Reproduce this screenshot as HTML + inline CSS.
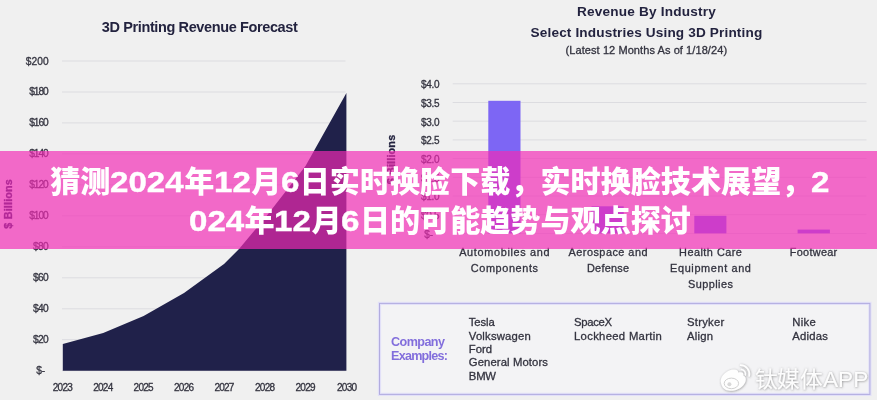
<!DOCTYPE html>
<html lang="zh-CN"><head><meta charset="utf-8"><title>猜测2024年12月6日实时换脸下载</title>
<style>
html,body{margin:0;padding:0;background:#f0f0f0;}
body{width:877px;height:400px;overflow:hidden;position:relative;font-family:"Liberation Sans", sans-serif;}
#chart{position:absolute;left:0;top:0;width:877px;height:400px;display:block;filter:blur(0.45px);}
#chart text{font-family:"Liberation Sans", sans-serif;}
#band{position:absolute;left:0;top:151px;width:877px;height:98px;background:rgba(243,41,181,0.678);}
.tl{position:absolute;left:1.5px;width:877px;text-align:center;white-space:nowrap;color:#fff;font-weight:900;font-size:30.1px;line-height:36px;height:36px;font-family:"Liberation Sans", "Noto Sans CJK SC", sans-serif;}
.tl span{display:inline-block;transform:scaleX(1.1);transform-origin:0 50%;-webkit-text-stroke:0.4px #fff;text-align:left;}
.d1{width:18.45px}.d2{width:36.9px}.d3{width:55.35px}.d4{width:73.8px}
#l1{top:163.5px;}
#l2{top:202.5px;}
</style></head><body>
<svg id="chart" width="877" height="400" viewBox="0 0 877 400">
<defs><filter id="sh" x="-10%" y="-30%" width="120%" height="160%"><feDropShadow dx="0.4" dy="0.5" stdDeviation="0.8" flood-color="#666" flood-opacity="0.75"/></filter></defs>
<rect width="877" height="400" fill="#f0f0f0"/>
<line x1="62" x2="345.5" y1="61.0" y2="61.0" stroke="#dcdce0" stroke-width="1"/>
<line x1="62" x2="345.5" y1="92.0" y2="92.0" stroke="#dcdce0" stroke-width="1"/>
<line x1="62" x2="345.5" y1="122.9" y2="122.9" stroke="#dcdce0" stroke-width="1"/>
<line x1="62" x2="345.5" y1="153.9" y2="153.9" stroke="#dcdce0" stroke-width="1"/>
<line x1="62" x2="345.5" y1="184.9" y2="184.9" stroke="#dcdce0" stroke-width="1"/>
<line x1="62" x2="345.5" y1="215.8" y2="215.8" stroke="#dcdce0" stroke-width="1"/>
<line x1="62" x2="345.5" y1="246.8" y2="246.8" stroke="#dcdce0" stroke-width="1"/>
<line x1="62" x2="345.5" y1="277.8" y2="277.8" stroke="#dcdce0" stroke-width="1"/>
<line x1="62" x2="345.5" y1="308.8" y2="308.8" stroke="#dcdce0" stroke-width="1"/>
<line x1="62" x2="345.5" y1="339.7" y2="339.7" stroke="#dcdce0" stroke-width="1"/>
<line x1="62" x2="345.5" y1="370.7" y2="370.7" stroke="#dcdce0" stroke-width="1"/>
<text x="48.7" y="61.0" font-size="10.2" text-anchor="end" font-weight="normal" fill="#33333f" stroke="#33333f" stroke-width="0.3" dominant-baseline="central" textLength="23" lengthAdjust="spacing">$200</text>
<text x="48.7" y="91.97" font-size="10.2" text-anchor="end" font-weight="normal" fill="#33333f" stroke="#33333f" stroke-width="0.3" dominant-baseline="central" textLength="19.5" lengthAdjust="spacing">$180</text>
<text x="48.7" y="122.94" font-size="10.2" text-anchor="end" font-weight="normal" fill="#33333f" stroke="#33333f" stroke-width="0.3" dominant-baseline="central" textLength="19.5" lengthAdjust="spacing">$160</text>
<text x="48.7" y="153.91" font-size="10.2" text-anchor="end" font-weight="normal" fill="#33333f" stroke="#33333f" stroke-width="0.3" dominant-baseline="central" textLength="19.5" lengthAdjust="spacing">$140</text>
<text x="48.7" y="184.88" font-size="10.2" text-anchor="end" font-weight="normal" fill="#33333f" stroke="#33333f" stroke-width="0.3" dominant-baseline="central" textLength="19.5" lengthAdjust="spacing">$120</text>
<text x="48.7" y="215.85" font-size="10.2" text-anchor="end" font-weight="normal" fill="#33333f" stroke="#33333f" stroke-width="0.3" dominant-baseline="central" textLength="19.5" lengthAdjust="spacing">$100</text>
<text x="48.7" y="246.82" font-size="10.2" text-anchor="end" font-weight="normal" fill="#33333f" stroke="#33333f" stroke-width="0.3" dominant-baseline="central" textLength="15.6" lengthAdjust="spacing">$80</text>
<text x="48.7" y="277.78999999999996" font-size="10.2" text-anchor="end" font-weight="normal" fill="#33333f" stroke="#33333f" stroke-width="0.3" dominant-baseline="central" textLength="15.6" lengthAdjust="spacing">$60</text>
<text x="48.7" y="308.76" font-size="10.2" text-anchor="end" font-weight="normal" fill="#33333f" stroke="#33333f" stroke-width="0.3" dominant-baseline="central" textLength="15.6" lengthAdjust="spacing">$40</text>
<text x="48.7" y="339.73" font-size="10.2" text-anchor="end" font-weight="normal" fill="#33333f" stroke="#33333f" stroke-width="0.3" dominant-baseline="central" textLength="15.6" lengthAdjust="spacing">$20</text>
<text x="45.2" y="370.7" font-size="10.2" text-anchor="end" font-weight="normal" fill="#33333f" stroke="#33333f" stroke-width="0.3" dominant-baseline="central">$-</text>
<path d="M62.8,370.7 L62.8,344 L103.2,333 L143.6,316 L184,293 L224,264 L239,249 L265,218 L305.5,166 L346.4,93 L346.4,370.7 Z" fill="#20214a"/>
<text x="62.8" y="387" font-size="10" text-anchor="middle" font-weight="normal" fill="#33333f" stroke="#33333f" stroke-width="0.3" dominant-baseline="central" textLength="20" lengthAdjust="spacing">2023</text>
<text x="103.2" y="387" font-size="10" text-anchor="middle" font-weight="normal" fill="#33333f" stroke="#33333f" stroke-width="0.3" dominant-baseline="central" textLength="20" lengthAdjust="spacing">2024</text>
<text x="143.6" y="387" font-size="10" text-anchor="middle" font-weight="normal" fill="#33333f" stroke="#33333f" stroke-width="0.3" dominant-baseline="central" textLength="20" lengthAdjust="spacing">2025</text>
<text x="184" y="387" font-size="10" text-anchor="middle" font-weight="normal" fill="#33333f" stroke="#33333f" stroke-width="0.3" dominant-baseline="central" textLength="20" lengthAdjust="spacing">2026</text>
<text x="224.4" y="387" font-size="10" text-anchor="middle" font-weight="normal" fill="#33333f" stroke="#33333f" stroke-width="0.3" dominant-baseline="central" textLength="20" lengthAdjust="spacing">2027</text>
<text x="265" y="387" font-size="10" text-anchor="middle" font-weight="normal" fill="#33333f" stroke="#33333f" stroke-width="0.3" dominant-baseline="central" textLength="20" lengthAdjust="spacing">2028</text>
<text x="305.5" y="387" font-size="10" text-anchor="middle" font-weight="normal" fill="#33333f" stroke="#33333f" stroke-width="0.3" dominant-baseline="central" textLength="20" lengthAdjust="spacing">2029</text>
<text x="347" y="387" font-size="10" text-anchor="middle" font-weight="normal" fill="#33333f" stroke="#33333f" stroke-width="0.3" dominant-baseline="central" textLength="20" lengthAdjust="spacing">2030</text>
<text x="199.8" y="27.4" font-size="14.5" text-anchor="middle" font-weight="bold" fill="#23233f" dominant-baseline="central" textLength="196" lengthAdjust="spacing">3D Printing Revenue Forecast</text>
<text transform="translate(7.8,203.9) rotate(-90)" font-size="10.8" text-anchor="middle" font-weight="bold" fill="#2a2358" stroke="#2a2358" stroke-width="0.35" dominant-baseline="central" textLength="49.5" lengthAdjust="spacing">$ Billions</text>
<text x="646.4" y="11.3" font-size="13.6" text-anchor="middle" font-weight="bold" fill="#23233f" dominant-baseline="central" textLength="139" lengthAdjust="spacing">Revenue By Industry</text>
<text x="646.4" y="32.8" font-size="13.6" text-anchor="middle" font-weight="bold" fill="#23233f" dominant-baseline="central" textLength="231.6" lengthAdjust="spacing">Select Industries Using 3D Printing</text>
<text x="646.3" y="50.3" font-size="11" text-anchor="middle" font-weight="normal" fill="#33333f" stroke="#33333f" stroke-width="0.3" dominant-baseline="central" textLength="161.5" lengthAdjust="spacing">(Latest 12 Months As of 1/18/24)</text>
<line x1="452.7" x2="866.5" y1="83.8" y2="83.8" stroke="#dcdce0" stroke-width="1"/>
<text x="439.5" y="84.7" font-size="10" text-anchor="end" font-weight="normal" fill="#33333f" stroke="#33333f" stroke-width="0.3" dominant-baseline="central" textLength="18.5" lengthAdjust="spacing">$4.0</text>
<line x1="452.7" x2="866.5" y1="102.5" y2="102.5" stroke="#dcdce0" stroke-width="1"/>
<text x="439.5" y="103.4" font-size="10" text-anchor="end" font-weight="normal" fill="#33333f" stroke="#33333f" stroke-width="0.3" dominant-baseline="central" textLength="18.5" lengthAdjust="spacing">$3.5</text>
<line x1="452.7" x2="866.5" y1="121.2" y2="121.2" stroke="#dcdce0" stroke-width="1"/>
<text x="439.5" y="122.1" font-size="10" text-anchor="end" font-weight="normal" fill="#33333f" stroke="#33333f" stroke-width="0.3" dominant-baseline="central" textLength="18.5" lengthAdjust="spacing">$3.0</text>
<line x1="452.7" x2="866.5" y1="139.9" y2="139.9" stroke="#dcdce0" stroke-width="1"/>
<text x="439.5" y="140.79999999999998" font-size="10" text-anchor="end" font-weight="normal" fill="#33333f" stroke="#33333f" stroke-width="0.3" dominant-baseline="central" textLength="18.5" lengthAdjust="spacing">$2.5</text>
<line x1="452.7" x2="866.5" y1="158.6" y2="158.6" stroke="#dcdce0" stroke-width="1"/>
<text x="439.5" y="159.5" font-size="10" text-anchor="end" font-weight="normal" fill="#33333f" stroke="#33333f" stroke-width="0.3" dominant-baseline="central" textLength="18.5" lengthAdjust="spacing">$2.0</text>
<line x1="452.7" x2="866.5" y1="177.3" y2="177.3" stroke="#dcdce0" stroke-width="1"/>
<text x="439.5" y="178.20000000000002" font-size="10" text-anchor="end" font-weight="normal" fill="#33333f" stroke="#33333f" stroke-width="0.3" dominant-baseline="central" textLength="18.5" lengthAdjust="spacing">$1.5</text>
<line x1="452.7" x2="866.5" y1="196.0" y2="196.0" stroke="#dcdce0" stroke-width="1"/>
<text x="439.5" y="196.9" font-size="10" text-anchor="end" font-weight="normal" fill="#33333f" stroke="#33333f" stroke-width="0.3" dominant-baseline="central" textLength="18.5" lengthAdjust="spacing">$1.0</text>
<line x1="452.7" x2="866.5" y1="214.7" y2="214.7" stroke="#dcdce0" stroke-width="1"/>
<text x="439.5" y="215.6" font-size="10" text-anchor="end" font-weight="normal" fill="#33333f" stroke="#33333f" stroke-width="0.3" dominant-baseline="central" textLength="18.5" lengthAdjust="spacing">$0.5</text>
<line x1="452.7" x2="866.5" y1="233.4" y2="233.4" stroke="#dcdce0" stroke-width="1"/>
<text x="433.2" y="234.29999999999998" font-size="10" text-anchor="end" font-weight="normal" fill="#33333f" stroke="#33333f" stroke-width="0.3" dominant-baseline="central">$-</text>
<rect x="488.3" y="100.8" width="32.2" height="132.6" fill="#7d66f4"/>
<rect x="591.5" y="206.3" width="32.2" height="27.1" fill="#7d66f4"/>
<rect x="694.3" y="215.8" width="32.1" height="17.6" fill="#7d66f4"/>
<rect x="797.6" y="229.6" width="32.3" height="3.8" fill="#7d66f4"/>
<text transform="translate(390.6,159.6) rotate(-90)" font-size="10.8" text-anchor="middle" font-weight="bold" fill="#23233f" stroke="#23233f" stroke-width="0.3" dominant-baseline="central" textLength="49.5" lengthAdjust="spacing">$ Billions</text>
<text x="504.4" y="251.5" font-size="10.9" text-anchor="middle" font-weight="normal" fill="#33333f" stroke="#33333f" stroke-width="0.3" dominant-baseline="central" textLength="90.4" lengthAdjust="spacing">Automobiles and</text>
<text x="504.4" y="267.8" font-size="10.9" text-anchor="middle" font-weight="normal" fill="#33333f" stroke="#33333f" stroke-width="0.3" dominant-baseline="central" textLength="67.2" lengthAdjust="spacing">Components</text>
<text x="608" y="251.5" font-size="10.9" text-anchor="middle" font-weight="normal" fill="#33333f" stroke="#33333f" stroke-width="0.3" dominant-baseline="central" textLength="79" lengthAdjust="spacing">Aerospace and</text>
<text x="608" y="267.8" font-size="10.9" text-anchor="middle" font-weight="normal" fill="#33333f" stroke="#33333f" stroke-width="0.3" dominant-baseline="central" textLength="42" lengthAdjust="spacing">Defense</text>
<text x="710.5" y="251.5" font-size="10.9" text-anchor="middle" font-weight="normal" fill="#33333f" stroke="#33333f" stroke-width="0.3" dominant-baseline="central" textLength="62.8" lengthAdjust="spacing">Health Care</text>
<text x="710.5" y="267.8" font-size="10.9" text-anchor="middle" font-weight="normal" fill="#33333f" stroke="#33333f" stroke-width="0.3" dominant-baseline="central" textLength="80.8" lengthAdjust="spacing">Equipment and</text>
<text x="710.5" y="284.1" font-size="10.9" text-anchor="middle" font-weight="normal" fill="#33333f" stroke="#33333f" stroke-width="0.3" dominant-baseline="central" textLength="44.8" lengthAdjust="spacing">Supplies</text>
<text x="813.5" y="251.5" font-size="10.9" text-anchor="middle" font-weight="normal" fill="#33333f" stroke="#33333f" stroke-width="0.3" dominant-baseline="central" textLength="47.4" lengthAdjust="spacing">Footwear</text>
<rect x="379.5" y="303.4" width="490.4" height="91.0" fill="#f3f3f5" stroke="#e2e0f8" stroke-width="3.2"/>
<rect x="379.5" y="303.4" width="490.4" height="91.0" fill="none" stroke="#b2acdf" stroke-width="1"/>
<text x="391" y="342" font-size="12.6" text-anchor="start" font-weight="bold" fill="#826edc" dominant-baseline="central" textLength="54" lengthAdjust="spacing">Company</text>
<text x="391" y="356" font-size="12.6" text-anchor="start" font-weight="bold" fill="#826edc" dominant-baseline="central" textLength="57" lengthAdjust="spacing">Examples:</text>
<text x="468.8" y="322" font-size="11.3" text-anchor="start" font-weight="normal" fill="#33333f" stroke="#33333f" stroke-width="0.3" dominant-baseline="central" textLength="26" lengthAdjust="spacing">Tesla</text>
<text x="468.8" y="335.5" font-size="11.3" text-anchor="start" font-weight="normal" fill="#33333f" stroke="#33333f" stroke-width="0.3" dominant-baseline="central" textLength="62" lengthAdjust="spacing">Volkswagen</text>
<text x="468.8" y="349" font-size="11.3" text-anchor="start" font-weight="normal" fill="#33333f" stroke="#33333f" stroke-width="0.3" dominant-baseline="central" textLength="23.2" lengthAdjust="spacing">Ford</text>
<text x="468.8" y="362.3" font-size="11.3" text-anchor="start" font-weight="normal" fill="#33333f" stroke="#33333f" stroke-width="0.3" dominant-baseline="central" textLength="79.2" lengthAdjust="spacing">General Motors</text>
<text x="468.8" y="376" font-size="11.3" text-anchor="start" font-weight="normal" fill="#33333f" stroke="#33333f" stroke-width="0.3" dominant-baseline="central" textLength="27.2" lengthAdjust="spacing">BMW</text>
<text x="574" y="322" font-size="11.3" text-anchor="start" font-weight="normal" fill="#33333f" stroke="#33333f" stroke-width="0.3" dominant-baseline="central" textLength="38" lengthAdjust="spacing">SpaceX</text>
<text x="574" y="335.5" font-size="11.3" text-anchor="start" font-weight="normal" fill="#33333f" stroke="#33333f" stroke-width="0.3" dominant-baseline="central" textLength="87.8" lengthAdjust="spacing">Lockheed Martin</text>
<text x="687" y="322" font-size="11.3" text-anchor="start" font-weight="normal" fill="#33333f" stroke="#33333f" stroke-width="0.3" dominant-baseline="central" textLength="37.2" lengthAdjust="spacing">Stryker</text>
<text x="687" y="335.5" font-size="11.3" text-anchor="start" font-weight="normal" fill="#33333f" stroke="#33333f" stroke-width="0.3" dominant-baseline="central" textLength="26" lengthAdjust="spacing">Align</text>
<text x="792.2" y="322" font-size="11.3" text-anchor="start" font-weight="normal" fill="#33333f" stroke="#33333f" stroke-width="0.3" dominant-baseline="central" textLength="23.6" lengthAdjust="spacing">Nike</text>
<text x="792.2" y="335.5" font-size="11.3" text-anchor="start" font-weight="normal" fill="#33333f" stroke="#33333f" stroke-width="0.3" dominant-baseline="central" textLength="35.6" lengthAdjust="spacing">Adidas</text>
<g filter="url(#sh)" opacity="0.92">
<path d="M721,383 C719.5,377.5 725,371.5 731.5,369.8 C736,368.6 738.6,370.2 738.2,372.6 C741.5,371.6 744.2,372.8 743.4,375.6 C746.6,377 746.6,381.5 743.6,385 C740.5,388.8 735,391 730,390.8 C725,390.6 721.8,387.5 721,383 Z" fill="#fff"/>
<ellipse cx="731.4" cy="383.4" rx="7.2" ry="5.3" fill="#fff" stroke="#cfcfcf" stroke-width="1"/>
<circle cx="729.4" cy="384.2" r="2" fill="#d6d6d6"/>
<path d="M741.5,369.6 a4.3,4.3 0 0 1 3.8,5.4" fill="none" stroke="#fff" stroke-width="1.5" stroke-linecap="round"/>
<path d="M740.6,365.2 a8.8,8.8 0 0 1 8.6,10.6" fill="none" stroke="#fff" stroke-width="1.7" stroke-linecap="round"/>
</g>
<text x="754.8" y="379.3" font-size="22" font-weight="500" fill="#fff" fill-opacity="0.95" dominant-baseline="central" textLength="113.5" lengthAdjust="spacingAndGlyphs" filter="url(#sh)" font-family='"Liberation Sans","Noto Sans CJK SC",sans-serif'>钛媒体APP</text>
</svg>
<div id="band"></div>
<div class="tl" id="l1">猜测<span class="d4">2024</span>年<span class="d2">12</span>月<span class="d1">6</span>日实时换脸下载，实时换脸技术展望，<span class="d1">2</span></div>
<div class="tl" id="l2"><span class="d3">024</span>年<span class="d2">12</span>月<span class="d1">6</span>日的可能趋势与观点探讨</div>
</body></html>
